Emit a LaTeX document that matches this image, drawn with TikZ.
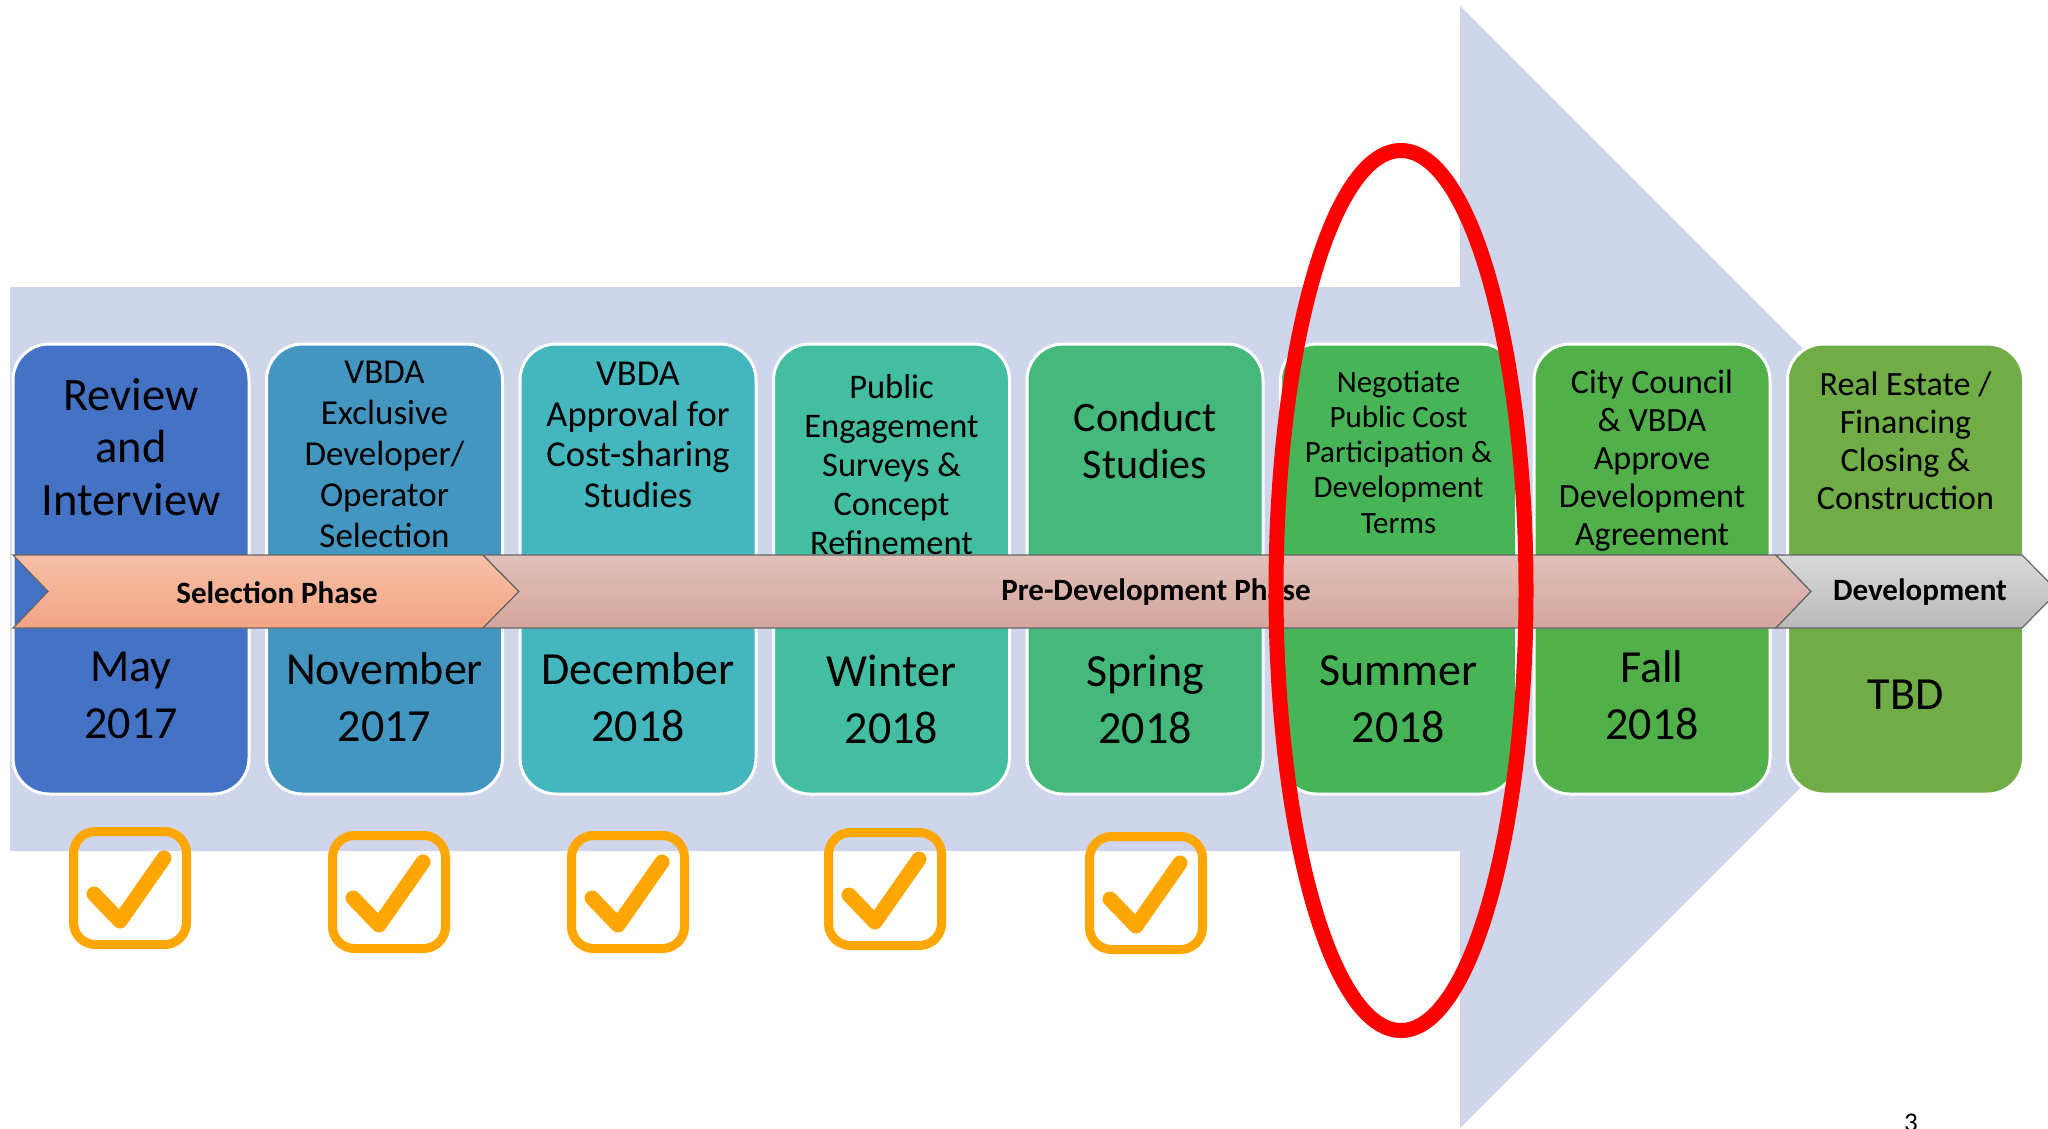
\documentclass[tikz,border=0pt]{standalone}
\usepackage{fontspec}
\setmainfont{Carlito}
\usetikzlibrary{positioning}
\definecolor{bgarrow}{RGB}{207,213,234}
\definecolor{st1}{RGB}{68,114,196}
\definecolor{st2}{RGB}{66,150,192}
\definecolor{st3}{RGB}{68,183,190}
\definecolor{st4}{RGB}{68,190,160}
\definecolor{st5}{RGB}{69,185,123}
\definecolor{st6}{RGB}{71,181,87}
\definecolor{st7}{RGB}{82,176,74}
\definecolor{st8}{RGB}{112,173,71}
\definecolor{seltop}{RGB}{246,192,168}
\definecolor{selbot}{RGB}{243,164,130}
\definecolor{pretop}{RGB}{224,192,184}
\definecolor{prebot}{RGB}{212,166,157}
\definecolor{checkorange}{RGB}{255,166,0}
\newcommand{\fsz}[2]{\fontsize{#1}{#2}\selectfont}

\begin{document}
\begin{tikzpicture}[x=1pt,y=-1pt,
  stagebox/.style={draw=white,line width=3pt,rounded corners=36pt,minimum width=236pt,minimum height=450pt},
  desc/.style={align=center,inner sep=0pt},
  phase/.style={draw=black!60,line width=1.2pt},
  phasetext/.style={font=\fsz{31}{36}\bfseries,inner sep=0pt},
  checkbox/.style={draw=checkorange,line width=9pt,rounded corners=22pt,minimum width=113pt,minimum height=113pt},
  checkmark/.style={draw=checkorange,line width=15pt,line cap=round,line join=round}]
  \path[use as bounding box,fill=white] (0,0) rectangle (2048,1128);
  % big background arrow
  \fill[bgarrow] (10,287) -- (1460,287) -- (1460,6) -- (2021,567) -- (1460,1128) -- (1460,851) -- (10,851) -- cycle;
  % stages
  \foreach \i in {1,...,8}
    \node[stagebox,fill=st\i] (box\i) at ({131+253.5*(\i-1)},569) {};
  \node[desc,font=\fsz{46.5}{52.5}] (desc1) at (131,447) {Review\\and\\Interview};
  \node[desc,font=\fsz{35}{41}] (desc2) at (384.5,454) {VBDA\\Exclusive\\Developer/\\Operator\\Selection};
  \node[desc,font=\fsz{36.5}{40.5}] (desc3) at (638,435) {VBDA\\Approval for\\Cost-sharing\\Studies};
  \node[desc,font=\fsz{34.5}{39}] (desc4) at (891.5,465) {Public\\Engagement\\Surveys \&\\Concept\\Refinement};
  \node[desc,font=\fsz{42}{47}] (desc5) at (1145,441) {Conduct\\Studies};
  \node[desc,font=\fsz{31}{35.3}] (desc6) at (1398.5,452) {Negotiate\\Public Cost\\Participation \&\\Development\\Terms};
  \node[desc,font=\fsz{34}{38}] (desc7) at (1652,461) {City Council\\\& VBDA\\Approve\\Development\\Agreement};
  \node[desc,font=\fsz{34}{38}] (desc8) at (1905.5,441) {Real Estate /\\Financing\\Closing \&\\Construction};
  % dates
  \node[desc,font=\fsz{46}{57}] (date1) at (131,695) {May\\2017};
  \node[desc,font=\fsz{46}{57}] (date2) at (384.5,697) {November\\2017};
  \node[desc,font=\fsz{46}{57}] (date3) at (638,697) {December\\2018};
  \node[desc,font=\fsz{46}{57}] (date4) at (891.5,699) {Winter\\2018};
  \node[desc,font=\fsz{46}{57}] (date5) at (1145,699) {Spring\\2018};
  \node[desc,font=\fsz{46}{57}] (date6) at (1398.5,699) {Summer\\2018};
  \node[desc,font=\fsz{46}{57}] (date7) at (1652,695) {Fall\\2018};
  \node[desc,font=\fsz{46}{57}] (date8) at (1905.5,695) {TBD};
  % phase chevrons
  \path[phase,top color=seltop,bottom color=selbot]
    (13,555) -- (483,555) -- (519,591.5) -- (483,628) -- (13,628) -- (48,591.5) -- cycle;
  \path[phase,top color=pretop,bottom color=prebot]
    (483,555) -- (1776,555) -- (1811,591.5) -- (1776,628) -- (483,628) -- (519,591.5) -- cycle;
  \path[phase,top color=black!15,bottom color=black!27]
    (1776,555) -- (2022,555) -- (2058,591.5) -- (2022,628) -- (1776,628) -- (1811,591.5) -- cycle;
  \node[phasetext] (sel) at (277,592.5) {Selection Phase};
  \node[phasetext] (pre) at (1156,592.5) {Pre-Development Phase};
  \node[phasetext] (dev) at (1920,592.5) {Development};
  % done marks
  \foreach \i/\x/\y in {1/130/888,2/389/892,3/628/892,4/885/889,5/1146/893}{
    \node[checkbox] (cb\i) at (\x,\y) {};
    \draw[checkmark] ([shift={(-36,6)}]cb\i.center) -- ([shift={(-10,33)}]cb\i.center) -- ([shift={(34,-30)}]cb\i.center);
  }
  % current step
  \draw[red,line width=15pt] (1401,590.5) ellipse [x radius=125,y radius=440];
  \node[font=\fsz{27}{32},anchor=base] (pg) at (1911,1131) {3};
\end{tikzpicture}
\end{document}
